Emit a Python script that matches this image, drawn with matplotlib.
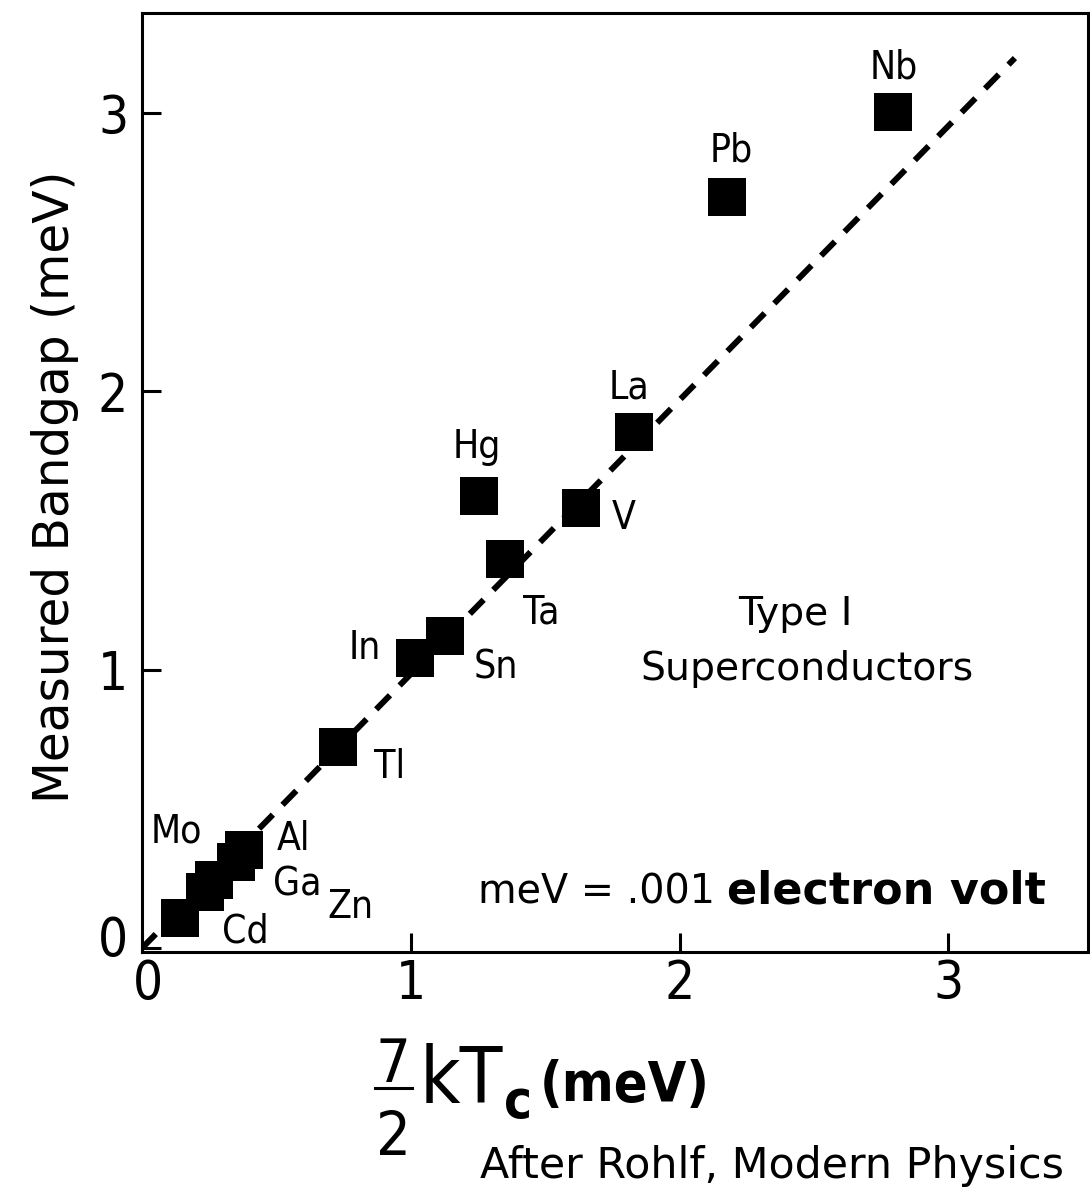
import matplotlib
matplotlib.use("Agg")
import matplotlib.pyplot as plt
from matplotlib.lines import Line2D
from matplotlib.transforms import ScaledTranslation

# ---------------- data ----------------
elements = ["Nb", "Pb", "La", "Hg", "V", "Ta", "Sn", "In", "Tl",
            "Al", "Ga", "Mo", "Zn", "Cd"]
kTc_meV = [2.796, 2.177, 1.829, 1.254, 1.635, 1.351, 1.127, 1.014, 0.731,
           0.379, 0.348, 0.267, 0.236, 0.143]
gap_meV = [3.006, 2.699, 1.856, 1.626, 1.581, 1.398, 1.120, 1.044, 0.723,
           0.351, 0.309, 0.243, 0.202, 0.108]
fit_x = [0.0, 3.248]
fit_y = [0.0, 3.198]
xticks = [0, 1, 2, 3]
yticks = [0, 1, 2, 3]
tick_labels = ["0", "1", "2", "3"]

# label offsets from marker centre (pixels, right/up positive, cap-centre)
label_dx = [0, 4, -5, -2, 42, 36, 51, -50, 51, 50, 62, -37, 145, 65]
label_dy = [48, 50, 48, 52, -6, -50, -27, 13, -16, 15, -19, 53, -11, -10]

# ---------------- layout ----------------
W, H, DPI = 1090, 1189, 100
SANS = ["DejaVu Sans"]
COND = dict(family=SANS, fontstretch="condensed")

def fx(x):
    return x / W

def fy(y):
    return 1 - y / H

fig = plt.figure(figsize=(W / DPI, H / DPI), dpi=DPI)
ax = fig.add_axes([fx(142), fy(952), (1088 - 142) / W, (952 - 13) / H])

ax.plot(fit_x, fit_y, color="black", lw=4.3, dashes=[3.3, 2.3],
        dash_capstyle="butt", zorder=3)
ax.plot(kTc_meV, gap_meV, ls="none", marker="s", ms=27.4,
        mfc="black", mec="black", mew=0, zorder=2)

ax.set_xlim(0, 3.52)
ax.set_ylim(-0.014, 3.36)
ax.set_xticks(xticks)
ax.set_yticks(yticks)
ax.set_xticklabels(tick_labels)
ax.set_yticklabels(tick_labels)
ax.tick_params(direction="in", length=14, width=2.2, labelsize=38)
ax.tick_params(axis="x", pad=4)
ax.tick_params(axis="y", pad=10)
for lab in ax.get_xticklabels() + ax.get_yticklabels():
    lab.set_fontfamily(SANS)
    lab.set_fontstretch("condensed")
for s in ax.spines.values():
    s.set_linewidth(2.2)

# the two "0" labels sit slightly away from the corner in the original
ty0 = ax.yaxis.get_major_ticks()[0].label1
ty0.set_transform(ty0.get_transform() + ScaledTranslation(0, 13 / DPI, fig.dpi_scale_trans))
tx0 = ax.xaxis.get_major_ticks()[0].label1
tx0.set_transform(tx0.get_transform() + ScaledTranslation(6 / DPI, 0, fig.dpi_scale_trans))

CAP = 29 * 0.73 / 0.72  # approx cap height in px for label font
for name, x, y, dx, dy in zip(elements, kTc_meV, gap_meV, label_dx, label_dy):
    ax.annotate(name, (x, y), xytext=(dx * 0.72, (dy - CAP / 2) * 0.72),
                textcoords="offset points", ha="center", va="baseline",
                fontsize=28, **COND)

# in-plot notes
fig.text(fx(795), fy(625), "Type I", ha="center", va="baseline",
         fontsize=28.4, family=SANS)
fig.text(fx(807), fy(680), "Superconductors", ha="center", va="baseline",
         fontsize=28.4, family=SANS)
fig.text(fx(478), fy(903), "meV = .001", ha="left", va="baseline",
         fontsize=28.5, family=SANS)
fig.text(fx(727), fy(903), "electron volt", ha="left", va="baseline",
         fontsize=32, family=SANS, fontweight="bold")

# y label
fig.text(fx(55), fy(487), "Measured Bandgap (meV)", rotation=90,
         ha="center", va="center", fontsize=35, family=SANS)

# x label: 7/2 kT_c (meV)
fig.text(fx(393), fy(1082), "7", ha="center", va="baseline",
         fontsize=44, **COND)
fig.add_artist(Line2D([fx(375), fx(412)], [fy(1088), fy(1088)],
                      color="black", lw=2.2, transform=fig.transFigure))
fig.text(fx(393), fy(1155), "2", ha="center", va="baseline",
         fontsize=44, **COND)
fig.text(fx(420), fy(1103), "kT", ha="left", va="baseline",
         fontsize=56, **COND)
fig.text(fx(504), fy(1118), "c", ha="left", va="baseline",
         fontsize=38, fontweight="bold", **COND)
fig.text(fx(540), fy(1101), "(meV)", ha="left", va="baseline",
         fontsize=40, fontweight="bold", **COND)

fig.text(fx(480), fy(1178), "After Rohlf, Modern Physics", ha="left",
         va="baseline", fontsize=30.8, family=SANS)

fig.savefig("out.png", dpi=DPI)
